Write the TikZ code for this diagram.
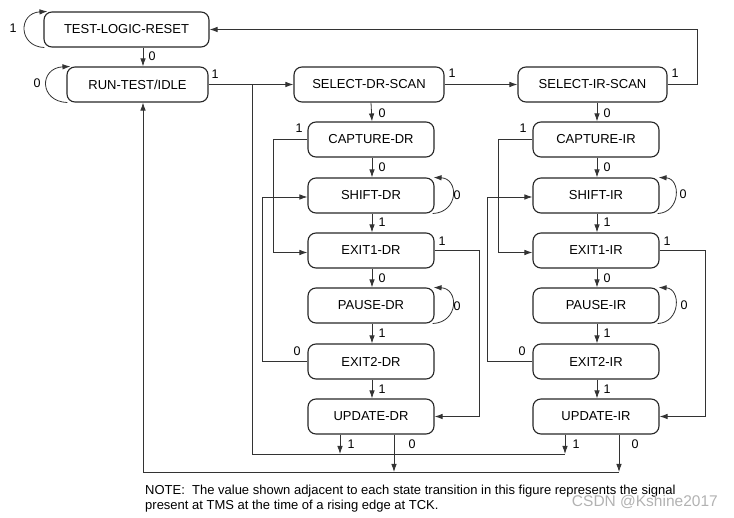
\documentclass[tikz,border=0pt]{standalone}
\usepackage{fontspec}
\setmainfont{Liberation Sans}
\usetikzlibrary{arrows.meta}
\begin{document}
\begin{tikzpicture}[x=1pt,y=-1pt,
  state/.style={draw=black!85, line width=1.1pt, rounded corners=8pt,
    minimum height=35pt, inner sep=0pt, font=\fontsize{13}{15}\selectfont},
  drstate/.style={state, minimum width=126pt},
  conn/.style={draw=black!80, line width=0.8pt},
  arr/.style={conn, -{Latex[length=8pt,width=5.5pt]}},
  lbl/.style={font=\fontsize{12.5}{14}\selectfont, inner sep=0pt},
]
\useasboundingbox (0,0) rectangle (734,518);

% states
\node[state, minimum width=165pt] (tlr) at (126.5,29.5) {TEST-LOGIC-RESET};
\node[state, minimum width=141pt] (rti) at (137.5,84.5) {RUN-TEST/IDLE};
\node[state, minimum width=150pt] (sdr) at (369,84.5) {SELECT-DR-SCAN};
\node[state, minimum width=149pt] (sir) at (592.5,84.5) {SELECT-IR-SCAN};

\node[drstate] (cdr) at (371,139.5) {CAPTURE-DR};
\node[drstate] (shdr) at (371,195.5) {SHIFT-DR};
\node[drstate] (e1dr) at (371,250.5) {EXIT1-DR};
\node[drstate] (pdr) at (371,305.5) {PAUSE-DR};
\node[drstate] (e2dr) at (371,361.5) {EXIT2-DR};
\node[drstate] (udr) at (371,416.5) {UPDATE-DR};

\node[drstate] (cir) at (596,139.5) {CAPTURE-IR};
\node[drstate] (shir) at (596,195.5) {SHIFT-IR};
\node[drstate] (e1ir) at (596,250.5) {EXIT1-IR};
\node[drstate] (pir) at (596,305.5) {PAUSE-IR};
\node[drstate] (e2ir) at (596,361.5) {EXIT2-IR};
\node[drstate] (uir) at (596,416.5) {UPDATE-IR};

% self loops
\draw[arr] ([xshift=1pt]tlr.south west) .. controls (18,46.5) and (18,13) .. ([xshift=4pt]tlr.north west);
\draw[arr] ([xshift=1pt]rti.south west) .. controls (39,101.5) and (39,68) .. ([xshift=4pt]rti.north west);
\draw[arr] ([xshift=-2pt]shdr.south east) .. controls (459,212.5) and (459,178.5) .. ([xshift=-1pt]shdr.north east);
\draw[arr] ([xshift=-2pt]pdr.south east) .. controls (459,322.5) and (459,288.5) .. ([xshift=-1pt]pdr.north east);
\draw[arr] ([xshift=-2pt]shir.south east) .. controls (681,212.5) and (681,178.5) .. ([xshift=-1pt]shir.north east);
\draw[arr] ([xshift=-2pt]pir.south east) .. controls (681,322.5) and (681,288.5) .. ([xshift=-1pt]pir.north east);

% main flow
\draw[arr] ([xshift=16.5pt]tlr.south) -- ([xshift=5.5pt]rti.north);
\draw[arr] (rti.east) -- (sdr.west);
\draw[arr] (sdr.east) -- (sir.west);
\draw[arr] (sir.east) -- ++(30,0) |- (tlr.east);

\draw[arr] ([xshift=2pt]sdr.south) -- ([xshift=1pt]cdr.north);
\draw[arr] ([xshift=1pt]cdr.south) -- ([xshift=1pt]shdr.north);
\draw[arr] ([xshift=1pt]shdr.south) -- ([xshift=1pt]e1dr.north);
\draw[arr] ([xshift=1pt]e1dr.south) -- ([xshift=1pt]pdr.north);
\draw[arr] ([xshift=1pt]pdr.south) -- ([xshift=1pt]e2dr.north);
\draw[arr] ([xshift=1pt]e2dr.south) -- ([xshift=1pt]udr.north);

\draw[arr] ([xshift=4.5pt]sir.south) -- ([xshift=1pt]cir.north);
\draw[arr] ([xshift=1pt]cir.south) -- ([xshift=1pt]shir.north);
\draw[arr] ([xshift=1pt]shir.south) -- ([xshift=1pt]e1ir.north);
\draw[arr] ([xshift=1pt]e1ir.south) -- ([xshift=1pt]pir.north);
\draw[arr] ([xshift=1pt]pir.south) -- ([xshift=1pt]e2ir.north);
\draw[arr] ([xshift=1pt]e2ir.south) -- ([xshift=1pt]uir.north);

% side paths DR
\draw[arr] (cdr.west) -- ++(-34,0) |- ([yshift=-2pt]e1dr.west);
\draw[arr] (e2dr.west) -- ++(-45,0) |- ([yshift=-1.5pt]shdr.west);
\draw[arr] (e1dr.east) -- ++(45,0) |- (udr.east);
% side paths IR
\draw[arr] (cir.west) -- ++(-34,0) |- ([yshift=-2pt]e1ir.west);
\draw[arr] (e2ir.west) -- ++(-45,0) |- ([yshift=-1.5pt]shir.west);
\draw[arr] (e1ir.east) -- ++(46,0) |- (uir.east);

% return paths
\coordinate (j1) at (252,84.5);
\coordinate (b1) at (252,454);
\coordinate (b0) at (143,472);
\coordinate (udr1) at (340,454);
\coordinate (uir1) at (565,454);
\coordinate (udr0) at (394,472);
\coordinate (uir0) at (619,472);
\draw[conn] (j1) -- (b1) -- (uir1);
\draw[arr] (udr.south -| udr1) -- (udr1);
\draw[arr] (uir.south -| uir1) -- (uir1);
\draw[arr] (udr.south -| udr0) -- (udr0);
\draw[arr] (uir.south -| uir0) -- (uir0);
\draw[arr] (uir0) -- (b0) -- (rti.south -| b0);

% labels
\node[lbl] (l1) at (13,28.5) {1};
\node[lbl] (l2) at (152,56) {0};
\node[lbl] (l3) at (37,83.5) {0};
\node[lbl] (l4) at (215,74) {1};
\node[lbl] (l5) at (452,73) {1};
\node[lbl] (l6) at (675,73) {1};

\node[lbl] (d1) at (382,113) {0};
\node[lbl] (d2) at (299,128) {1};
\node[lbl] (d3) at (382,167) {0};
\node[lbl] (d4) at (457,195) {0};
\node[lbl] (d5) at (382,222) {1};
\node[lbl] (d6) at (442,241) {1};
\node[lbl] (d7) at (382,278) {0};
\node[lbl] (d8) at (457,306) {0};
\node[lbl] (d9) at (382,333) {1};
\node[lbl] (d10) at (297,351) {0};
\node[lbl] (d11) at (382,389) {1};
\node[lbl] (d12) at (351,444) {1};
\node[lbl] (d13) at (412,444) {0};

\node[lbl] (i1) at (607,113) {0};
\node[lbl] (i2) at (523,128) {1};
\node[lbl] (i3) at (607,167) {0};
\node[lbl] (i4) at (683,194) {0};
\node[lbl] (i5) at (607,222) {1};
\node[lbl] (i6) at (667,241) {1};
\node[lbl] (i7) at (607,278) {0};
\node[lbl] (i8) at (684,305) {0};
\node[lbl] (i9) at (607,333) {1};
\node[lbl] (i10) at (522,351) {0};
\node[lbl] (i11) at (607,389) {1};
\node[lbl] (i12) at (576,444) {1};
\node[lbl] (i13) at (635,444) {0};

% note
\node[anchor=base west, inner sep=0pt, font=\fontsize{13}{16}\selectfont] (note1) at (145,494)
  {NOTE:\ \ The value shown adjacent to each state transition in this figure represents the signal};
\node[anchor=base west, inner sep=0pt, font=\fontsize{13}{16}\selectfont] (note2) at (145,510)
  {present at TMS at the time of a rising edge at TCK.};
\node[anchor=base east, inner sep=0pt, text=black!30, font=\fontsize{15.5}{17}\selectfont] (wm) at (718,507)
  {CSDN @Kshine2017};
\end{tikzpicture}
\end{document}
